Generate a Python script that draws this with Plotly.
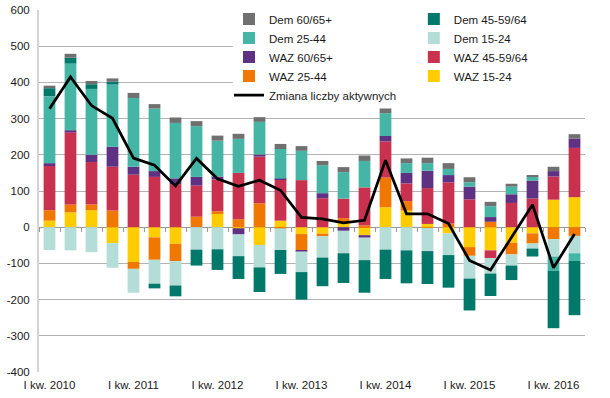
import plotly.graph_objects as go

quarters = [
    "I kw. 2010", "II kw. 2010", "III kw. 2010", "IV kw. 2010",
    "I kw. 2011", "II kw. 2011", "III kw. 2011", "IV kw. 2011",
    "I kw. 2012", "II kw. 2012", "III kw. 2012", "IV kw. 2012",
    "I kw. 2013", "II kw. 2013", "III kw. 2013", "IV kw. 2013",
    "I kw. 2014", "II kw. 2014", "III kw. 2014", "IV kw. 2014",
    "I kw. 2015", "II kw. 2015", "III kw. 2015", "IV kw. 2015",
    "I kw. 2016", "II kw. 2016",
]
tick_labels = ["I kw. 2010", "I kw. 2011", "I kw. 2012", "I kw. 2013",
               "I kw. 2014", "I kw. 2015", "I kw. 2016"]
y_ticks = [-400, -300, -200, -100, 0, 100, 200, 300, 400, 500, 600]
y_tick_text = ["-400", "-300", "-200", "-100", "0", "100", "200", "300", "400", "500", "600"]

waz_15_24 = [18, 41, 47, -44, -96, -28, -46, 0, 39, -3, -49, 18, -19, -18, 14, -22,
             55, 46, 9, -17, -55, -64, -43, -17, 76, 83]
waz_25_44 = [29, 22, 16, 46, -19, -62, -48, 29, 5, 22, 66, -3, -44, -7, 11, 5,
             82, 26, -2, 10, -24, 15, -32, -28, -33, -24]
waz_45_59 = [122, 199, 117, 121, 145, 139, 119, 86, 88, 128, 129, 113, 130, 80, 54, 105,
             100, 49, 99, 114, 77, -21, 67, 79, 64, 136]
waz_60 = [8, 6, 20, 55, 22, 16, 16, 24, 8, -17, 6, 3, -4, 14, -10, -7,
          15, 29, 48, 20, 35, 13, 24, 50, 15, 26]
dem_15_24 = [-63, -64, -69, -68, -66, -66, -67, -62, -61, -60, -62, -60, -57, -59, -62, -62,
             -62, -64, -64, -60, -63, -43, -31, -14, -48, -48]
dem_25_44 = [185, 184, 182, 172, 190, 173, 153, 140, 99, 94, 90, 82, 81, 77, 73, 73,
             63, 27, 21, 17, 12, 30, 21, 11, -40, -21]
dem_45_59 = [22, 16, 13, 8, 0, -13, -30, -44, -57, -63, -68, -66, -76, -79, -82, -90,
             -81, -91, -91, -90, -88, -62, -40, -22, -158, -150]
dem_60 = [7, 11, 9, 9, 14, 12, 15, 14, 14, 14, 13, 14, 13, 12, 14, 15,
          13, 13, 15, 16, 14, 12, 8, 3, 12, 12]
zmiana = [327, 415, 336, 301, 191, 171, 114, 190, 134, 113, 130, 102, 27, 23, 12, 19,
          185, 37, 37, 10, -92, -118, -28, 62, -112, -19]

# (name, values, color, legend id, rank within legend) in stacking order
bar_series = [
    ("WAZ 15-24", waz_15_24, "#FFCC00", "legend2", 4),
    ("WAZ 25-44", waz_25_44, "#F07800", "legend", 4),
    ("WAZ 45-59/64", waz_45_59, "#C8324F", "legend2", 3),
    ("WAZ 60/65+", waz_60, "#5F3183", "legend", 3),
    ("Dem 15-24", dem_15_24, "#B3DDD6", "legend2", 2),
    ("Dem 25-44", dem_25_44, "#45B5A5", "legend", 2),
    ("Dem 45-59/64", dem_45_59, "#00796B", "legend2", 1),
    ("Dem 60/65+", dem_60, "#707070", "legend", 1),
]

fig = go.Figure()
for name, vals, color, leg, rank in bar_series:
    fig.add_trace(go.Bar(
        x=quarters, y=vals, name=name, legend=leg, legendrank=rank,
        marker=dict(color=color, line=dict(width=0)),
    ))

fig.add_trace(go.Scatter(
    x=quarters, y=zmiana, name="Zmiana liczby aktywnych", legend="legend", legendrank=5,
    mode="lines", line=dict(color="black", width=2.75),
    xaxis="x2", yaxis="y",
))

legend_style = dict(
    orientation="v", xanchor="left", y=1.015, yanchor="top",
    traceorder="normal", bgcolor="rgba(0,0,0,0)",
    font=dict(size=11.5, color="#1a1a1a"),
)

fig.update_layout(
    width=610, height=398,
    margin=dict(l=39, r=25, t=10, b=26, autoexpand=False),
    barmode="relative", bargap=0.44,
    plot_bgcolor="white", paper_bgcolor="white",
    font=dict(family="Liberation Sans, Arial, sans-serif", size=11.5, color="#1a1a1a"),
    legend=dict(x=0.348, **legend_style),
    legend2=dict(x=0.6865, **legend_style),
    shapes=[dict(
        type="rect", xref="paper", yref="paper",
        x0=0.355, x1=1.0, y0=0.755, y1=1.01,
        fillcolor="white", line=dict(width=0), layer="above",
    )],
    xaxis=dict(
        type="category", categoryorder="array", categoryarray=quarters,
        range=[-0.5, 25.5], tickmode="array", tickvals=tick_labels, ticktext=tick_labels,
        showgrid=False, ticks="", showline=False, zeroline=False,
        ticklabelstandoff=4,
    ),
    xaxis2=dict(
        type="category", categoryorder="array", categoryarray=quarters,
        overlaying="x", anchor="free", position=0.4, side="bottom",
        range=[-0.5, 25.5], tickmode="linear", tick0=0, dtick=1,
        ticks="outside", tickson="boundaries", ticklen=4, tickcolor="#9a9a9a",
        showline=True, linecolor="#9a9a9a", linewidth=1,
        showticklabels=False, showgrid=False, layer="below traces",
    ),
    yaxis=dict(
        range=[-400, 600], tickmode="array", tickvals=y_ticks, ticktext=y_tick_text,
        showgrid=True, gridcolor="#b3b3b3", gridwidth=1,
        zeroline=False, showline=True, linecolor="#d4d4d4", linewidth=2,
        ticks="", ticklabelstandoff=5,
    ),
)

fig.write_html("out.html", config={"displayModeBar": False},
               post_script="document.body.style.margin='0px';")
